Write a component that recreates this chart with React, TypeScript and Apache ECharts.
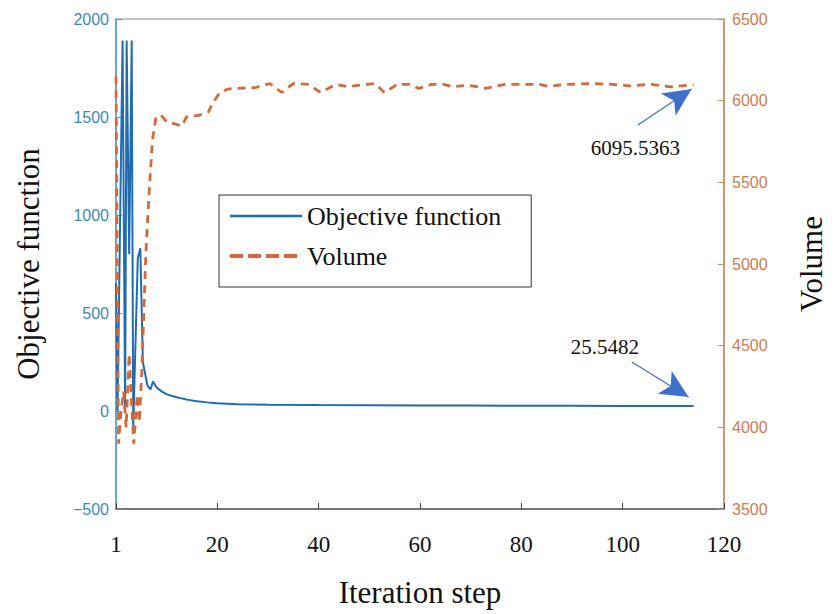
import React, { useEffect, useRef } from "react";
import * as echarts from "echarts";

// ---- data ----
const objX = [0, 0.3, 1.3, 1.8, 2.1, 2.6, 3.1, 3.4, 4.3, 4.8, 5.3, 6.2, 6.8, 7.3, 8, 9, 10, 12, 14, 16, 18, 20, 24, 30, 40, 50, 60, 70, 80, 90, 100, 110, 114];
const objY = [650, 0, 1890, 20, 1890, 800, 1890, -80, 780, 830, 250, 130, 110, 150, 120, 100, 85, 70, 58, 50, 44, 40, 35, 32, 30, 29, 28, 27.5, 27, 26.5, 26, 25.7, 25.5482];

const volX = [0, 0.5, 1, 1.5, 2, 2.6, 3, 3.5, 4.2, 4.6, 5.1, 5.9, 6.6, 7.2, 7.9, 8.9, 10, 11.4, 13, 13.9, 16.3, 18.2, 19.2, 20.5, 22, 23.4, 27.5, 30.4, 32.7, 35, 37.9, 40.4, 43.4, 45.7, 48.2, 51.1, 53, 55.5, 57.9, 59.8, 62.3, 64.6, 66.6, 69.5, 73, 75.3, 76.8, 81.1, 83.4, 85.4, 89, 93.7, 97.9, 101.4, 105.5, 109.5, 113, 114];
const volY = [6150, 3900, 4100, 4220, 4000, 4450, 4200, 3900, 4200, 4030, 4350, 5070, 5470, 5760, 5900, 5910, 5870, 5860, 5845, 5900, 5910, 5930, 5990, 6050, 6070, 6075, 6080, 6105, 6050, 6105, 6100, 6050, 6100, 6085, 6095, 6105, 6050, 6100, 6100, 6075, 6100, 6100, 6085, 6095, 6075, 6090, 6100, 6100, 6100, 6088, 6100, 6105, 6100, 6090, 6100, 6085, 6095, 6095.5363];

const xTickLabels = ["1", "20", "40", "60", "80", "100", "120"];
const seriesNames = ["Objective function", "Volume"];

// annotation text positions and arrows, in data coordinates of each series' axes
const objAnnotation = { text: "25.5482", tx: 96.5, ty: 326, fx: 101.8, fy: 250, px: 113, py: 71 };
const volAnnotation = { text: "6095.5363", tx: 102.5, ty: 5710, fx: 103, fy: 5851, px: 113.6, py: 6071 };

const SERIF = "'Liberation Serif', 'Times New Roman', serif";
const SANS = "'Liberation Sans', Arial, Helvetica, sans-serif";
const BLUE_AXIS = "#4d9bd2";
const BLUE_TXT = "#3a88c0";
const ORANGE_AXIS = "#d8865e";
const ORANGE_TXT = "#d27a50";
const ARROW = "#3e6fcb";
const BLUE_LINE = "#1f6cb0";
const ORANGE_LINE = "#d46a3c";

function fmtNum(v: number) {
  return v < 0 ? "\u2212" + Math.abs(v) : String(v);
}

function annot(a: typeof objAnnotation) {
  return {
    markLine: {
      silent: true,
      symbol: ["none", "arrow"],
      symbolSize: [20, 28],
      label: { show: false },
      lineStyle: { color: ARROW, width: 1.2, type: "solid" },
      emphasis: { disabled: true },
      data: [[{ coord: [a.fx, a.fy] }, { coord: [a.px, a.py] }]],
    },
    markPoint: {
      silent: true,
      symbol: "circle",
      symbolSize: 1,
      itemStyle: { color: "rgba(0,0,0,0)" },
      label: {
        show: true,
        position: "inside",
        formatter: a.text,
        color: "#111",
        fontFamily: SERIF,
        fontSize: 21,
      },
      data: [{ coord: [a.tx, a.ty] }],
    },
  };
}

export default function App() {
  const ref = useRef<HTMLDivElement>(null);
  useEffect(() => {
    if (!ref.current) return;
    const chart = echarts.init(ref.current, null, { renderer: "svg" });
    chart.setOption({
      animation: false,
      backgroundColor: "#fff",
      grid: { left: 116, right: 98, top: 19, bottom: 105, show: true, borderColor: "#8a8a8a", borderWidth: 1, backgroundColor: "transparent" },
      legend: {
        data: [
          { name: seriesNames[0], itemStyle: { opacity: 0 }, lineStyle: { color: BLUE_LINE, width: 2.5, type: "solid" } },
          { name: seriesNames[1], itemStyle: { opacity: 0 }, lineStyle: { color: ORANGE_LINE, width: 4, type: [13, 5] } },
        ],
        orient: "vertical",
        left: 219,
        top: 195,
        itemWidth: 72,
        itemHeight: 14,
        itemGap: 10,
        padding: [6, 30, 16, 9],
        borderColor: "#333",
        borderWidth: 1,
        backgroundColor: "#fff",
        itemStyle: { opacity: 0, borderWidth: 0 },
        textStyle: { fontFamily: SERIF, fontSize: 26, color: "#111", lineHeight: 30 },
      },
      xAxis: {
        type: "value",
        min: 0,
        max: 120,
        interval: 20,
        splitLine: { show: false },
        axisLine: { show: true, onZero: false, lineStyle: { color: "#5c5c5c", width: 1.5 } },
        axisTick: { show: true, inside: true, length: 6, lineStyle: { color: "#444" } },
        axisLabel: {
          color: "#111",
          fontFamily: SERIF,
          fontSize: 23,
          margin: 24,
          formatter: (v: number) => xTickLabels[Math.round(v / 20)] ?? String(v),
        },
        name: "Iteration step",
        nameLocation: "middle",
        nameGap: 68,
        nameTextStyle: { color: "#111", fontFamily: SERIF, fontSize: 31 },
      },
      yAxis: [
        {
          type: "value",
          position: "left",
          min: -500,
          max: 2000,
          interval: 500,
          splitLine: { show: false },
          axisLine: { show: true, onZero: false, lineStyle: { color: BLUE_AXIS, width: 1.5 } },
          axisTick: { show: true, inside: true, length: 6, lineStyle: { color: BLUE_AXIS } },
          axisLabel: { color: BLUE_TXT, fontFamily: SANS, fontSize: 16, margin: 7, formatter: fmtNum },
          name: "Objective function",
          nameLocation: "middle",
          nameRotate: 90,
          nameGap: 72,
          nameTextStyle: { color: "#111", fontFamily: SERIF, fontSize: 31 },
        },
        {
          type: "value",
          position: "right",
          min: 3500,
          max: 6500,
          interval: 500,
          splitLine: { show: false },
          axisLine: { show: true, onZero: false, lineStyle: { color: ORANGE_AXIS, width: 1.5 } },
          axisTick: { show: true, inside: true, length: 6, lineStyle: { color: ORANGE_AXIS } },
          axisLabel: { color: ORANGE_TXT, fontFamily: SANS, fontSize: 16, margin: 8, formatter: fmtNum },
          name: "Volume",
          nameLocation: "middle",
          nameRotate: 90,
          nameGap: 72,
          nameTextStyle: { color: "#111", fontFamily: SERIF, fontSize: 31 },
        },
      ],
      series: [
        {
          name: seriesNames[0],
          type: "line",
          yAxisIndex: 0,
          symbol: "none",
          showSymbol: false,
          lineStyle: { color: BLUE_LINE, width: 2 },
          itemStyle: { color: BLUE_LINE },
          emphasis: { disabled: true },
          data: objX.map((x, i) => [x, objY[i]]),
          ...annot(objAnnotation),
        },
        {
          name: seriesNames[1],
          type: "line",
          yAxisIndex: 1,
          symbol: "none",
          showSymbol: false,
          lineStyle: { color: ORANGE_LINE, width: 2.8, type: [8, 6] },
          itemStyle: { color: ORANGE_LINE },
          emphasis: { disabled: true },
          data: volX.map((x, i) => [x, volY[i]]),
          ...annot(volAnnotation),
        },
      ],
    });
    return () => chart.dispose();
  }, []);
  return (
    <div
      ref={ref}
      style={{ position: "fixed", left: 0, top: 0, width: 835, height: 614, background: "#fff" }}
    />
  );
}
